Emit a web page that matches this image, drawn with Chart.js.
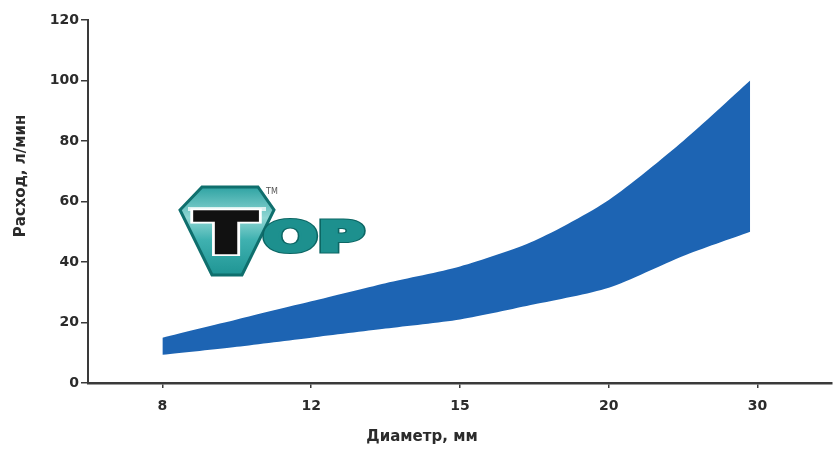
<!DOCTYPE html>
<html>
<head>
<meta charset="utf-8">
<script src="https://cdn.jsdelivr.net/npm/chart.js@4"></script>
<style>
  html, body { margin: 0; padding: 0; background: #fff; }
  #wrap { width: 837px; height: 450px; }
</style>
</head>
<body>
<div id="wrap"><canvas id="chart" width="837" height="450"></canvas></div>
<script>
// --- Datos ---
const diametros = ['8', '12', '15', '20', '30'];          // etiquetas del eje X (mm)
const posiciones = [0, 0.5, 1, 1.5, 2, 2.5, 3, 3.5, 3.95]; // posición sobre el eje (índice de categoría)
const caudalMax = [15, 21, 27, 33, 38.5, 47, 60.5, 80, 100]; // borde superior, л/мин
const caudalMin = [9.3, 12, 15, 18, 21, 26, 31.5, 42, 50];   // borde inferior, л/мин
const yTicks = [0, 20, 40, 60, 80, 100, 120];

const azul = '#1d64b3';
const ejeColor = '#3a3a3a';
const fuenteTicks = { family: '"DejaVu Sans"', size: 14, weight: 'bold' };

// --- Títulos y logo ---
const decor = {
  id: 'decor',
  afterDraw(chart) {
    const ctx = chart.ctx;
    ctx.save();
    ctx.fillStyle = '#2b2b2b';
    ctx.font = 'bold 15px "DejaVu Sans"';
    ctx.textAlign = 'center';
    ctx.textBaseline = 'middle';
    ctx.fillText('Диаметр, мм', 422, 437);
    ctx.save();
    ctx.translate(21, 176);
    ctx.rotate(-Math.PI / 2);
    ctx.fillText('Расход, л/мин', 0, 0);
    ctx.restore();

    // logo TOP
    const hex = [[202,187],[258,187],[274,210],[242,275],[212,275],[180,210]];
    ctx.beginPath();
    hex.forEach((p, i) => i ? ctx.lineTo(p[0], p[1]) : ctx.moveTo(p[0], p[1]));
    ctx.closePath();
    const g = ctx.createLinearGradient(0, 187, 0, 275);
    g.addColorStop(0, '#2fa3a3');
    g.addColorStop(0.35, '#8fd6d3');
    g.addColorStop(0.6, '#3fb1b0');
    g.addColorStop(1, '#1f9594');
    ctx.fillStyle = g;
    ctx.fill();
    ctx.lineWidth = 3;
    ctx.strokeStyle = '#0f6f6d';
    ctx.stroke();

    // franja clara
    ctx.fillStyle = 'rgba(255,255,255,0.75)';
    ctx.fillRect(188, 207, 78, 4);

    // T
    ctx.save();
    ctx.translate(226, 252);
    ctx.scale(1.6, 1);
    ctx.font = 'bold 56px "DejaVu Sans"';
    ctx.textAlign = 'center';
    ctx.textBaseline = 'alphabetic';
    ctx.lineJoin = 'miter';
    ctx.lineWidth = 7;
    ctx.strokeStyle = '#ffffff';
    ctx.strokeText('T', 0, 0);
    ctx.lineWidth = 3.5;
    ctx.strokeStyle = '#111111';
    ctx.strokeText('T', 0, 0);
    ctx.fillStyle = '#111111';
    ctx.fillText('T', 0, 0);
    ctx.restore();

    // OP
    ctx.save();
    ctx.translate(263, 251);
    ctx.scale(1.6, 1);
    ctx.font = 'bold 40px "DejaVu Sans"';
    ctx.textAlign = 'left';
    ctx.textBaseline = 'alphabetic';
    ctx.lineJoin = 'miter';
    ctx.lineWidth = 5;
    ctx.strokeStyle = '#0c6664';
    ctx.strokeText('OP', 0, 0);
    ctx.lineWidth = 3;
    ctx.strokeStyle = '#1d908e';
    ctx.strokeText('OP', 0, 0);
    ctx.fillStyle = '#1d908e';
    ctx.fillText('OP', 0, 0);
    ctx.restore();

    ctx.fillStyle = '#555';
    ctx.font = '8px "DejaVu Sans"';
    ctx.textAlign = 'left';
    ctx.fillText('TM', 266, 192);
    ctx.restore();
  }
};

const ctx = document.getElementById('chart').getContext('2d');
const myChart = new Chart(ctx, {
  type: 'line',
  data: {
    datasets: [
      {
        label: 'min',
        data: posiciones.map((x, i) => ({ x, y: caudalMin[i] })),
        borderWidth: 0, borderColor: azul, pointRadius: 0, fill: false, tension: 0.25
      },
      {
        label: 'max',
        data: posiciones.map((x, i) => ({ x, y: caudalMax[i] })),
        borderWidth: 0, borderColor: azul, backgroundColor: azul, pointRadius: 0, fill: '-1', tension: 0.25
      }
    ]
  },
  options: {
    responsive: false,
    animation: false,
    layout: { padding: { top: 20, right: 5, left: 0, bottom: 0 } },
    plugins: { legend: { display: false }, tooltip: { enabled: false } },
    scales: {
      x: {
        type: 'linear', min: -0.5, max: 4.5,
        afterBuildTicks: s => { s.ticks = diametros.map((_, i) => ({ value: i })); },
        afterFit: s => { s.height = 67; },
        ticks: { callback: v => diametros[v], color: '#2b2b2b', font: fuenteTicks, padding: 10, maxRotation: 0 },
        grid: { drawOnChartArea: false, tickLength: 5, color: ejeColor, lineWidth: 1.5 },
        border: { color: ejeColor, width: 2.5 }
      },
      y: {
        min: 0, max: 120,
        afterBuildTicks: s => { s.ticks = yTicks.map(v => ({ value: v })); },
        afterFit: s => { s.width = 88; },
        ticks: { color: '#2b2b2b', font: fuenteTicks, padding: 2 },
        grid: { drawOnChartArea: false, tickLength: 7, color: ejeColor, lineWidth: 1.5 },
        border: { color: ejeColor, width: 2 }
      }
    }
  },
  plugins: [decor]
});
</script>
</body>
</html>
